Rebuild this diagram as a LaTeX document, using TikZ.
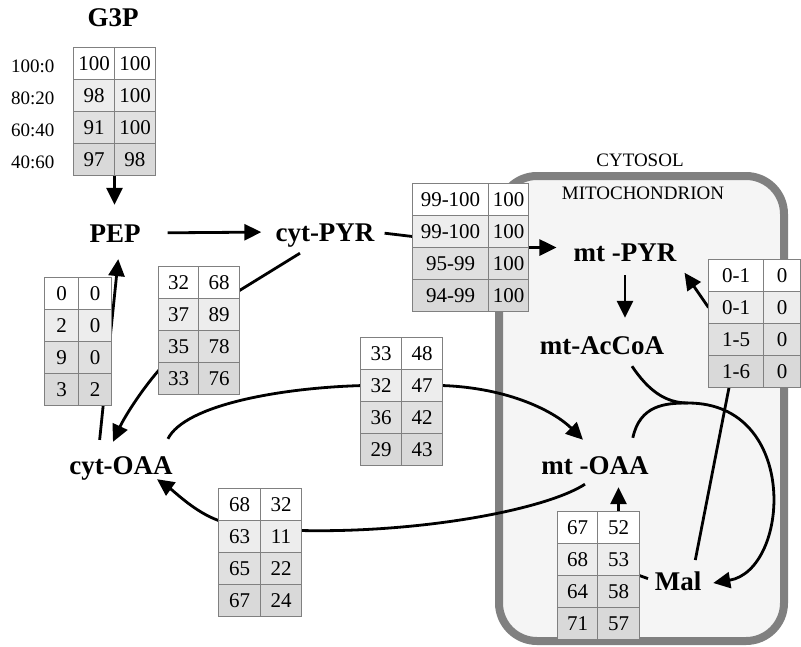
\documentclass[tikz,border=0pt]{standalone}
\usepackage{fontspec}
\setmainfont{Liberation Serif}
\usetikzlibrary{matrix,arrows.meta,backgrounds}

\definecolor{rowb}{gray}{0.93}
\definecolor{rowc}{gray}{0.88}
\definecolor{rowd}{gray}{0.85}
\definecolor{cellline}{gray}{0.5}
\definecolor{mitofill}{gray}{0.96}
\definecolor{mitoline}{gray}{0.5}

\begin{document}
\begin{tikzpicture}[x=1pt, y=-1pt,
    metab/.style={font=\bfseries\fontsize{27}{27}\selectfont, inner sep=0pt,
      text height=18pt, text depth=0pt},
    compart/.style={font=\fontsize{19}{19}\selectfont, inner sep=0pt},
    ratio/.style={font=\fontsize{19}{19}\selectfont, inner sep=0pt, anchor=east},
    vals/.style 2 args={matrix of nodes, anchor=north west, inner sep=0pt, outer sep=0pt,
      column sep=-1pt, row sep=-1pt,
      nodes={draw=cellline, line width=1pt, minimum height=32pt, inner sep=0pt,
        font=\fontsize{21}{21}\selectfont},
      column 1/.style={nodes={minimum width=#1}},
      column 2/.style={nodes={minimum width=#2}},
      row 1/.style={nodes={fill=white}},
      row 2/.style={nodes={fill=rowb}},
      row 3/.style={nodes={fill=rowc}},
      row 4/.style={nodes={fill=rowd}}},
    flow/.style={line width=2.8pt, -{Triangle[length=17pt,width=16pt]}},
    link/.style={line width=2.8pt}]
  \useasboundingbox (0,0) rectangle (801,646);

  % metabolites
  \node[metab] (g3p) at (113,17) {G3P};
  \node[metab] (pep) at (115,233) {PEP};
  \node[metab] (cytpyr) at (325,232) {cyt-PYR};
  \node[metab] (cytoaa) at (121,465) {cyt-OAA};
  \node[metab] (mtpyr) at (625,252) {mt -PYR};
  \node[metab] (mtacc) at (602,345) {mt-AcCoA};
  \node[metab] (mtoaa) at (595,465) {mt -OAA};
  \node[metab] (mal) at (678,581) {Mal};
  \node[compart] (cyto) at (640,160) {CYTOSOL};
  \node[compart] (mito) at (643,193) {MITOCHONDRION};

  % labelling tables
  \matrix (tg) [vals={41pt}{41pt}] at (73,47) {
    100 & 100 \\ 98 & 100 \\ 91 & 100 \\ 97 & 98 \\};
  \matrix (tpck) [vals={34pt}{33pt}] at (44,277) {
    0 & 0 \\ 2 & 0 \\ 9 & 0 \\ 3 & 2 \\};
  \matrix (tpc) [vals={40pt}{41pt}] at (158,266) {
    32 & 68 \\ 37 & 89 \\ 35 & 78 \\ 33 & 76 \\};
  \matrix (tpyr) [vals={76pt}{40pt}] at (412,183) {
    99-100 & 100 \\ 99-100 & 100 \\ 95-99 & 100 \\ 94-99 & 100 \\};
  \matrix (tme) [vals={55pt}{37pt}] at (708,259) {
    0-1 & 0 \\ 0-1 & 0 \\ 1-5 & 0 \\ 1-6 & 0 \\};
  \matrix (toaain) [vals={41pt}{41pt}] at (360,337) {
    33 & 48 \\ 32 & 47 \\ 36 & 42 \\ 29 & 43 \\};
  \matrix (toaaout) [vals={42pt}{41pt}] at (218,488) {
    68 & 32 \\ 63 & 11 \\ 65 & 22 \\ 67 & 24 \\};
  \matrix (tmdh) [vals={40pt}{42pt}] at (557,511) {
    67 & 52 \\ 68 & 53 \\ 64 & 58 \\ 71 & 57 \\};

  \foreach \r/\mix in {1/100:0, 2/80:20, 3/60:40, 4/40:60}
    \node[ratio] (mix\r) at ([xshift=-19pt,yshift=-3pt]tg-\r-1.west) {\mix};

  \coordinate (cit) at (688,403);

  \begin{scope}[on background layer]
    \draw[mitoline, fill=mitofill, line width=8pt, rounded corners=38pt]
      (499,176) rectangle (784,641);

    \draw[flow, shorten >=19pt] (tg.south) -- (tg.south |- pep.north);
    \draw[flow, shorten <=27pt, shorten >=14pt] (pep.east) -- (cytpyr.west);
    \draw[link, shorten <=10pt] (cytpyr.east) -- ([yshift=-5pt]tpyr-2-1.west);
    \draw[flow, shorten >=17pt] (tpyr-2-2.south east) -- (tpyr-2-2.south east -| mtpyr.west);
    \draw[flow, shorten <=14pt, shorten >=18pt] (mtpyr.south) -- (mtpyr.south |- mtacc.north);
    \draw[flow, shorten >=14pt] (tme-2-1.west) -- (mtpyr.south east);
    \draw[link, shorten <=12pt] ([xshift=15pt]mal.north) -- ([xshift=-7pt]tme-4-1.south);

    \draw[link] ([xshift=30pt,yshift=-12pt]mtacc.south) .. controls (648,390) and (665,403) .. (cit);
    \draw[flow, shorten >=12pt] ([xshift=-16pt,yshift=18pt]mtoaa.north east)
      .. controls (640,405) and (665,403) .. (cit)
      .. controls (800,403) and (790,570) .. ([yshift=-4pt]mal.east);

    \draw[flow] ([xshift=-10pt,yshift=-10pt]mtoaa.south)
      .. controls (545,510) and (420,533) .. ([yshift=6pt]toaaout-2-2.east)
      -- (toaaout-1-1.south west)
      .. controls (195,512) and (175,492) .. ([xshift=36pt,yshift=-5pt]cytoaa.south);
    \draw[flow] ([xshift=-5pt,yshift=17pt]cytoaa.north east)
      .. controls (185,405) and (280,388) .. (toaain-2-1.west)
      -- (toaain-2-2.east)
      .. controls (510,388) and (555,412) .. ([xshift=-12pt,yshift=16pt]mtoaa.north);

    \draw[flow] ([xshift=-25pt,yshift=-12pt]cytpyr.south) -- ([yshift=-8pt]tpc-1-2.east)
      -- ([yshift=8pt]tpc-4-1.west)
      .. controls (140,392) and (124,418) .. ([xshift=-8pt,yshift=14pt]cytoaa.north);
    \draw[flow, shorten <=16pt, shorten >=17pt] ([xshift=-23pt]cytoaa.north) -- ([xshift=5pt]pep.south);
    \draw[flow, shorten >=13pt] (tmdh-1-2.north) -- (tmdh-1-2.north |- mtoaa.south);
    \draw[link, shorten <=7pt] (mal.west) -- (tmdh-3-2.north east);
  \end{scope}
\end{tikzpicture}
\end{document}
